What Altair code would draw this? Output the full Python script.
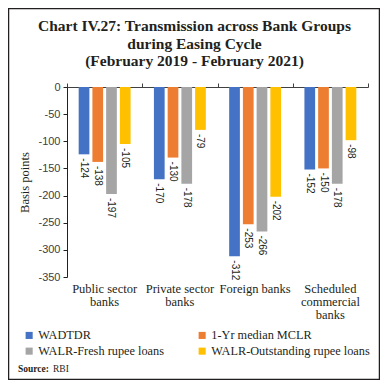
import json
import altair as alt
import pandas as pd

categories = ["Public sector banks", "Private sector banks", "Foreign banks", "Scheduled commercial banks"]
category_lines = {
    "Public sector banks": ["Public sector", "banks"],
    "Private sector banks": ["Private sector", "banks"],
    "Foreign banks": ["Foreign banks"],
    "Scheduled commercial banks": ["Scheduled", "commercial", "banks"],
}
series = ["WADTDR", "1-Yr median MCLR", "WALR-Fresh rupee loans", "WALR-Outstanding rupee loans"]
colors = ["#4472C4", "#ED7D31", "#A5A5A5", "#FFC000"]
wadtdr = [-124, -170, -312, -152]
mclr = [-138, -130, -253, -150]
walr_fresh = [-197, -178, -266, -178]
walr_out = [-105, -79, -202, -98]

rows = []
for s, vals in zip(series, [wadtdr, mclr, walr_fresh, walr_out]):
    for c, v in zip(categories, vals):
        rows.append({"category": c, "series": s, "value": v, "label": str(v)})
df = pd.DataFrame(rows)

label_expr = "".join(
    f"datum.label == {json.dumps(k)} ? {json.dumps(v)} : " for k, v in category_lines.items()
) + "datum.label"

SERIF = "Liberation Serif"
SANS = "Liberation Sans"

xscale = alt.Scale(domain=categories, paddingInner=0, paddingOuter=0)
xoff_scale = alt.Scale(domain=series, paddingInner=0.22, paddingOuter=0.85)
yscale = alt.Scale(domain=[-350, 0], nice=False)

yaxis = alt.Axis(title="Basis points", values=list(range(-350, 1, 50)),
                 labelOverlap=False,
                 labelExpr="replace(datum.label, '\u2212', '-')",
                 grid=False, domainColor="#231f20", tickColor="#231f20",
                 tickSize=4, labelFont=SANS, labelFontSize=11,
                 labelColor="#404040", labelPadding=3,
                 titleFont=SERIF, titleFontSize=12.5, titleFontWeight="normal",
                 titleColor="#231f20", titlePadding=6)

base = alt.Chart(df)

bars = base.mark_bar().encode(
    x=alt.X("category:N", scale=xscale, sort=categories,
            axis=alt.Axis(orient="bottom", title=None, domain=False, ticks=False,
                          labelAngle=0, labelExpr=label_expr, labelFont=SERIF,
                          labelFontSize=12.5, labelColor="#231f20", labelPadding=5,
                          labelLineHeight=13, labelBaseline="top")),
    xOffset=alt.XOffset("series:N", scale=xoff_scale, sort=series),
    y=alt.Y("value:Q", scale=yscale, axis=yaxis),
    color=alt.Color("series:N", sort=series, scale=alt.Scale(domain=series, range=colors),
                    legend=alt.Legend(title=None, orient="none", legendX=-44, legendY=242,
                                      values=series, direction="horizontal",
                                      columns=2, columnPadding=32, rowPadding=3,
                                      symbolType="square", symbolSize=50,
                                      symbolStrokeWidth=0, labelFont=SERIF,
                                      labelFontSize=12.3, labelColor="#231f20",
                                      labelOffset=3, labelLimit=300)),
)

labels = base.mark_text(angle=90, align="left", baseline="middle", dx=4,
                        font=SANS, fontSize=10, color="#231f20").encode(
    x=alt.X("category:N", scale=xscale, sort=categories,
            axis=alt.Axis(orient="top", title=None, labels=False, domain=True,
                          domainColor="#404040", ticks=True, tickColor="#404040",
                          tickSize=4, tickBand="extent")),
    xOffset=alt.XOffset("series:N", scale=xoff_scale, sort=series),
    y=alt.Y("value:Q", scale=yscale, axis=yaxis),
    text=alt.Text("label:N"),
)

dummy = alt.Chart(pd.DataFrame({"a": [0]}))
frame = dummy.mark_rect(fill=None, stroke="#231f20", strokeWidth=1.5).encode(
    x=alt.value(-58.5), x2=alt.value(312.5), y=alt.value(-78.5), y2=alt.value(292.5)
)
src_bold = dummy.mark_text(align="left", baseline="middle", font=SERIF, fontSize=9.5,
                           fontWeight="bold", color="#231f20").encode(
    x=alt.value(-49), y=alt.value(282), text=alt.value("Source:"))
src = dummy.mark_text(align="left", baseline="middle", font=SERIF, fontSize=9.5,
                      color="#231f20").encode(
    x=alt.value(-14), y=alt.value(282), text=alt.value("RBI"))

chart = alt.layer(bars, labels, frame, src_bold, src).resolve_axis(x="independent").properties(
    width=301, height=190,
    title=alt.TitleParams(
        text=["Chart IV.27: Transmission across Bank Groups", "during Easing Cycle",
              "(February 2019 - February 2021)"],
        font=SERIF, fontSize=15.5, fontWeight="bold", color="#231f20",
        anchor="middle", frame="group", dx=-23, offset=-62, lineHeight=17.5),
    autosize=alt.AutoSizeParams(type="none"),
    padding={"left": 59, "top": 79, "right": 12, "bottom": 103},
).configure_view(stroke=None)

chart.save("out.html", embed_options={"renderer": "svg", "actions": False})
